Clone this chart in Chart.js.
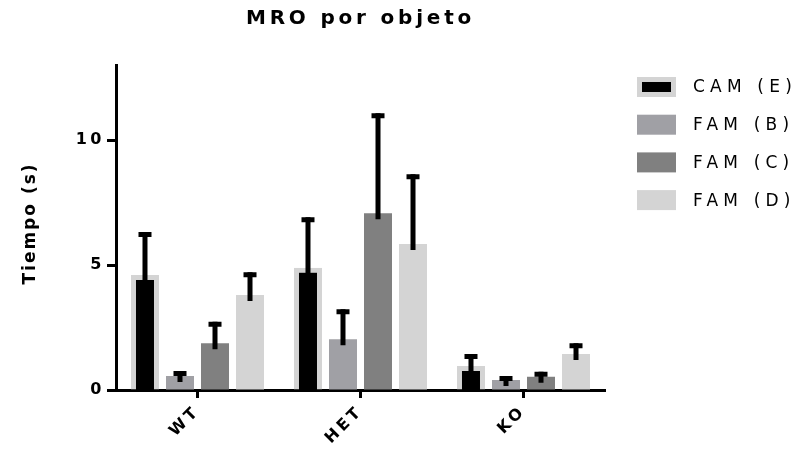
<!DOCTYPE html>
<html>
<head>
<meta charset="utf-8">
<script src="https://cdn.jsdelivr.net/npm/chart.js@4"></script>
<style>
  html, body { margin: 0; padding: 0; background: #fff; }
  canvas { display: block; }
</style>
</head>
<body>
<canvas id="chart" width="799" height="460"></canvas>
<script>
// Genotype groups and the four object series (mean time in seconds)
const categories = ['WT', 'HET', 'KO'];
const seriesNames = ['CAM (E)', 'FAM (B)', 'FAM (C)', 'FAM (D)'];
const camE = [4.6, 4.89, 0.96];
const famB = [0.56, 2.03, 0.40];
const famC = [1.87, 7.07, 0.53];
const famD = [3.8, 5.84, 1.44];
// Upper error (SEM) for each series
const camEErr = [1.72, 2.02, 0.48];
const famBErr = [0.2, 1.2, 0.16];
const famCErr = [0.86, 4.0, 0.2];
const famDErr = [0.91, 2.79, 0.43];
const yTicks = [0, 5, 10];

const seriesValues = [camE, famB, famC, famD];
const seriesErrors = [camEErr, famBErr, famCErr, famDErr];
const seriesFill = ['#000000', '#a0a0a5', '#808080', '#d4d4d4'];
const seriesEdge = ['#d4d4d4', null, null, null];

const FONT = '"DejaVu Sans", "Liberation Sans", Arial, sans-serif';
Chart.defaults.font.family = FONT;
Chart.defaults.color = '#000';

// Letter-spaced text for the title, ticks and axis title
const spacedText = {
  id: 'spacedText',
  beforeDraw(chart) {
    chart.ctx.letterSpacing = '3.5px';
    const tb = chart.titleBlock;
    if (tb && !tb._spaced) {
      const draw = tb.draw.bind(tb);
      tb.draw = function (area) {
        const c = chart.ctx, prev = c.letterSpacing;
        c.letterSpacing = '3.8px';
        draw(area);
        c.letterSpacing = prev;
      };
      tb._spaced = true;
    }
    const ys = chart.scales.y;
    if (ys && !ys._spaced) {
      const drawTitle = ys.drawTitle.bind(ys);
      ys.drawTitle = function () {
        const c = chart.ctx, prev = c.letterSpacing;
        c.save();
        c.letterSpacing = '2px';
        c.translate(0, -4);
        drawTitle();
        c.restore();
        c.letterSpacing = prev;
      };
      ys._spaced = true;
    }
  }
};

// Upward error bars with a flat cap
const errorBars = {
  id: 'errorBars',
  afterDatasetsDraw(chart) {
    const ctx = chart.ctx;
    const y = chart.scales.y;
    ctx.save();
    ctx.fillStyle = '#000';
    chart.data.datasets.forEach((ds, i) => {
      const meta = chart.getDatasetMeta(i);
      meta.data.forEach((bar, j) => {
        const top = y.getPixelForValue(seriesValues[i][j] + seriesErrors[i][j]);
        ctx.fillRect(bar.x - 2.5, top, 5, bar.y - top + 6);
        ctx.fillRect(bar.x - 6.5, top, 13, 5);
      });
    });
    ctx.restore();
  }
};

// Legend column on the right
const sideLegend = {
  id: 'sideLegend',
  afterDraw(chart) {
    const ctx = chart.ctx;
    ctx.save();
    ctx.letterSpacing = '5.2px';
    ctx.font = '17px ' + FONT;
    ctx.textBaseline = 'middle';
    ctx.textAlign = 'left';
    chart.data.datasets.forEach((ds, i) => {
      const cy = 87 + i * 37.7;
      const bx = 637, bw = 39, bh = 20;
      const edge = ds.borderWidth || 0;
      ctx.fillStyle = edge ? ds.borderColor : ds.backgroundColor;
      ctx.fillRect(bx, cy - bh / 2, bw, bh);
      if (edge) {
        ctx.fillStyle = ds.backgroundColor;
        ctx.fillRect(bx + edge, cy - bh / 2 + edge, bw - 2 * edge, bh - 2 * edge);
      }
      ctx.fillStyle = '#000';
      ctx.fillText(ds.label, 693, cy + 1);
    });
    ctx.restore();
  }
};

const datasets = seriesNames.map((name, i) => ({
  label: name,
  data: seriesValues[i],
  backgroundColor: seriesFill[i],
  borderColor: seriesEdge[i] || seriesFill[i],
  borderWidth: seriesEdge[i] ? 5 : 0,
  borderSkipped: 'start',
  categoryPercentage: 0.859,
  barPercentage: 0.8
}));

new Chart(document.getElementById('chart'), {
  type: 'bar',
  data: { labels: categories, datasets },
  plugins: [spacedText, errorBars, sideLegend],
  options: {
    responsive: false,
    animation: false,
    events: [],
    layout: { padding: { left: 0, right: 194, top: 0, bottom: 0 } },
    plugins: {
      legend: { display: false },
      tooltip: { enabled: false },
      title: {
        display: true,
        text: 'MRO por objeto',
        fullSize: false,
        color: '#000',
        font: { size: 20, weight: 'bold' },
        padding: { top: 7, bottom: 34 }
      }
    },
    scales: {
      x: {
        z: 1,
        offset: true,
        grid: {
          display: true, offset: false, drawOnChartArea: false, drawTicks: true,
          tickLength: 8, tickWidth: 3, tickColor: '#000'
        },
        border: { display: true, color: '#000', width: 3 },
        ticks: {
          color: '#000', font: { size: 16, weight: 'bold' },
          minRotation: 45, maxRotation: 45, padding: 4
        },
        afterFit(scale) { scale.height = 70; }
      },
      y: {
        z: 1,
        min: 0,
        max: 13,
        afterBuildTicks(scale) { scale.ticks = yTicks.map(v => ({ value: v })); },
        grid: {
          display: true, drawOnChartArea: false, drawTicks: true,
          tickLength: 9, tickWidth: 3, tickColor: '#000'
        },
        border: { display: true, color: '#000', width: 3 },
        ticks: { color: '#000', font: { size: 16, weight: 'bold' }, padding: 2 },
        title: {
          display: true,
          text: 'Tiempo (s)',
          color: '#000',
          font: { size: 17, weight: 'bold' },
          padding: { top: 20, bottom: 0 }
        },
        afterFit(scale) { scale.width = 116; }
      }
    }
  }
});
</script>
</body>
</html>
